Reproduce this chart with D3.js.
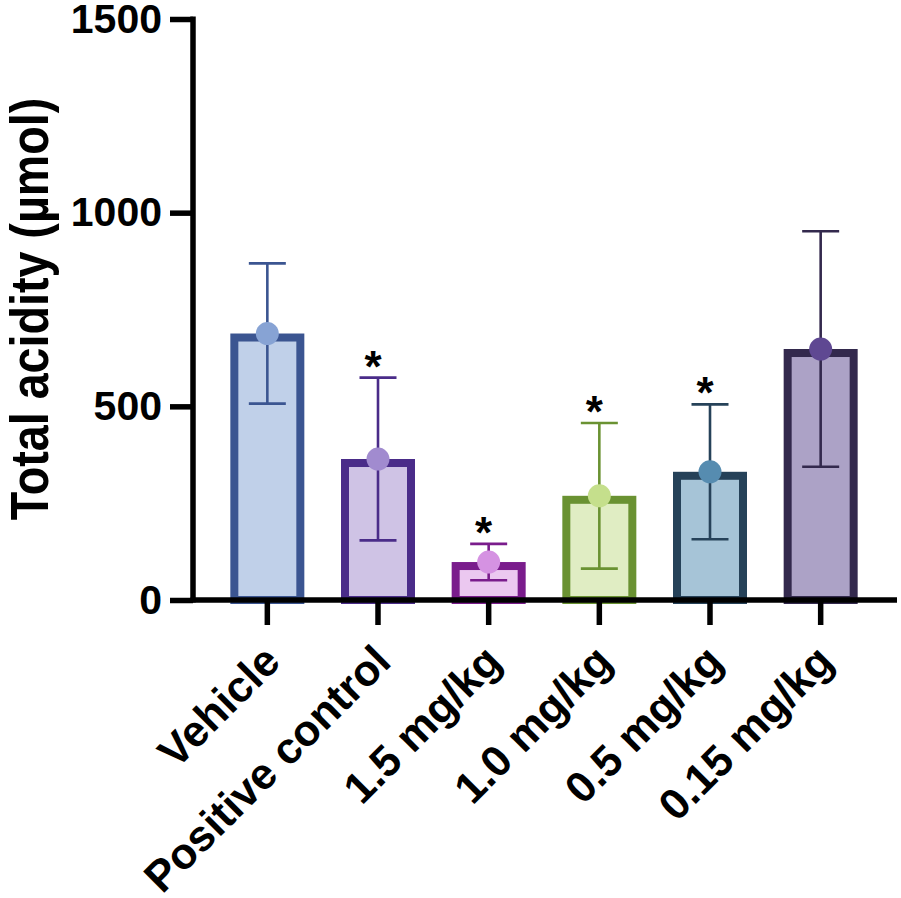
<!DOCTYPE html>
<html>
<head>
<meta charset="utf-8">
<script src="https://cdn.jsdelivr.net/npm/d3@7"></script>
<style>
  body { margin: 0; background: #fff; }
  text { font-family: "Liberation Sans", Arial, sans-serif; font-weight: bold; }
</style>
</head>
<body>
<svg id="chart"></svg>
<script>
var groups = ["Vehicle", "Positive control", "1.5 mg/kg", "1.0 mg/kg", "0.5 mg/kg", "0.15 mg/kg"];
var means = [688, 364, 98, 269, 331, 648];
var sds = [181, 210, 47, 188, 174, 304];
var signif = [false, true, true, true, true, false];
var yTicks = [0, 500, 1000, 1500];

var edgeColors = ["#3b5591", "#4a2c89", "#7a1c8c", "#6a9232", "#264259", "#33294d"];
var fillColors = ["#c0d0e9", "#cfc3e5", "#ebc8f0", "#e0edc3", "#a6c4d7", "#aca2c6"];
var dotColors = ["#87a3d4", "#a18bcf", "#d592e2", "#c5df8c", "#568cb0", "#5f4892"];

var width = 901, height = 898;
var svg = d3.select("#chart")
    .attr("width", width)
    .attr("height", height);

var x = d3.scaleBand()
    .domain(groups)
    .range([212, 876])
    .padding(0);

var y = d3.scaleLinear()
    .domain([0, 1500])
    .range([600, 19]);

var bw = 66, sw = 8, cap = 18.5;

var rows = groups.map(function (g, i) {
    return { name: g, mean: means[i], sd: sds[i], sig: signif[i], i: i };
});

function cx(d) { return x(d.name) + x.bandwidth() / 2; }

// bars
svg.append("g").selectAll("rect")
    .data(rows)
    .enter()
    .append("rect")
    .attr("x", function (d) { return cx(d) - bw / 2; })
    .attr("y", function (d) { return y(d.mean) + sw / 2; })
    .attr("width", bw)
    .attr("height", function (d) { return y(0) - y(d.mean) - sw / 2; })
    .attr("fill", function (d) { return fillColors[d.i]; })
    .attr("stroke", function (d) { return edgeColors[d.i]; })
    .attr("stroke-width", sw);

// error bars
var eb = svg.append("g").selectAll("g")
    .data(rows)
    .enter()
    .append("g")
    .attr("stroke", function (d) { return edgeColors[d.i]; })
    .attr("stroke-width", 2.6);

eb.append("line")
    .attr("x1", cx).attr("x2", cx)
    .attr("y1", function (d) { return y(d.mean + d.sd); })
    .attr("y2", function (d) { return y(d.mean - d.sd); });
eb.append("line")
    .attr("x1", function (d) { return cx(d) - cap; })
    .attr("x2", function (d) { return cx(d) + cap; })
    .attr("y1", function (d) { return y(d.mean + d.sd); })
    .attr("y2", function (d) { return y(d.mean + d.sd); });
eb.append("line")
    .attr("x1", function (d) { return cx(d) - cap; })
    .attr("x2", function (d) { return cx(d) + cap; })
    .attr("y1", function (d) { return y(d.mean - d.sd); })
    .attr("y2", function (d) { return y(d.mean - d.sd); });

// mean dots
svg.append("g").selectAll("circle")
    .data(rows)
    .enter()
    .append("circle")
    .attr("cx", cx)
    .attr("cy", function (d) { return y(d.mean); })
    .attr("r", 11.5)
    .attr("fill", function (d) { return dotColors[d.i]; });

// significance stars
svg.append("g").selectAll("text")
    .data(rows.filter(function (d) { return d.sig; }))
    .enter()
    .append("text")
    .attr("x", function (d) { return cx(d) - 5; })
    .attr("y", function (d) { return y(d.mean + d.sd) + 4; })
    .attr("text-anchor", "middle")
    .attr("font-size", 44)
    .attr("fill", "#000")
    .text("*");

// y axis
var yAxis = svg.append("g")
    .attr("transform", "translate(193,0)")
    .call(d3.axisLeft(y).tickValues(yTicks).tickSize(23).tickPadding(8).tickFormat(d3.format("d")));
yAxis.select(".domain").attr("stroke", "#000").attr("stroke-width", 5.5)
    .attr("d", "M0," + (y(1500) - 2.5) + "V" + (y(0) + 2.5));
yAxis.selectAll(".tick line").attr("stroke", "#000").attr("stroke-width", 5.5);
yAxis.selectAll(".tick text")
    .attr("font-size", 41)
    .attr("fill", "#000")
    .attr("font-family", "Liberation Sans, Arial, sans-serif")
    .attr("font-weight", "bold");

// x axis
var xAxis = svg.append("g")
    .attr("transform", "translate(0,600)")
    .call(d3.axisBottom(x).tickSize(25).tickFormat(""));
xAxis.select(".domain").attr("stroke", "#000").attr("stroke-width", 5.5)
    .attr("d", "M190.5,0H897");
xAxis.selectAll(".tick line").attr("stroke", "#000").attr("stroke-width", 5.5);

// rotated category labels
svg.append("g").selectAll("text")
    .data(rows)
    .enter()
    .append("text")
    .attr("transform", function (d) { return "translate(" + (cx(d) + 15) + ",664) rotate(-45)"; })
    .attr("text-anchor", "end")
    .attr("font-size", 43.5)
    .attr("fill", "#000")
    .text(function (d) { return d.name; });

// y title
svg.append("text")
    .attr("transform", "translate(48,309) rotate(-90) scale(0.88,1)")
    .attr("text-anchor", "middle")
    .attr("font-size", 53)
    .attr("fill", "#000")
    .text("Total acidity (µmol)");
</script>
</body>
</html>
